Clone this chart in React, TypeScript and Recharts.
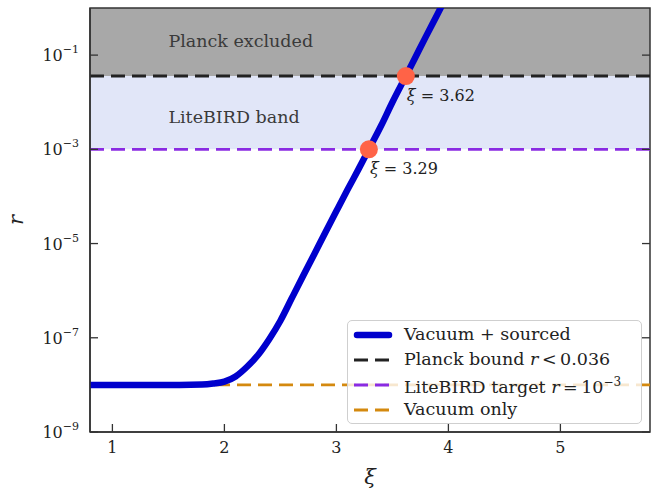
import {
  LineChart,
  Line,
  XAxis,
  YAxis,
  ReferenceArea,
  ReferenceLine,
  ReferenceDot,
} from 'recharts'

const FONT = '"DejaVu Serif", "Liberation Serif", serif'

// ── data ─────────────────────────────────────────────────────────────────
const xiValues = [
  0.8, 1.0, 1.2, 1.4, 1.6, 1.8, 1.9, 2.0, 2.1, 2.2, 2.3, 2.4, 2.5, 2.6, 2.7, 2.8,
  2.9, 3.0, 3.1, 3.2, 3.29, 3.4, 3.5, 3.62, 3.7, 3.8, 3.9, 3.95,
]
const rTotal = [
  1.0e-8, 1.0e-8, 1.0e-8, 1.0e-8, 1.0e-8, 1.02e-8, 1.07e-8, 1.17e-8, 1.51e-8, 2.4e-8,
  4.3e-8, 9.3e-8, 2.3e-7, 6.8e-7, 2.0e-6, 5.8e-6, 1.7e-5, 4.9e-5, 1.4e-4, 3.9e-4,
  1.0e-3, 3.2e-3, 1.0e-2, 3.6e-2, 8.5e-2, 0.25, 0.72, 1.23,
]
const vacuumXi = [0.8, 5.8]
const vacuumR = [1e-8, 1e-8]

const planckBound = 0.036
const litebirdTarget = 1e-3
const crossXi = [3.29, 3.62]
const crossR = [1e-3, 0.036]
const crossLabels = ['3.29', '3.62']

const xTicks = [1, 2, 3, 4, 5]
const yTicks = [1e-9, 1e-7, 1e-5, 1e-3, 1e-1]
const xDomain: [number, number] = [0.8, 5.8]
const yDomain: [number, number] = [1e-9, 1]

const BLUE = '#0000cd'
const BLACK = '#222222'
const PURPLE = '#8a2be2'
const ORANGE = '#d4890f'
const TOMATO = '#ff6347'
const DASH = '14 7'

const PLOT_W = 560

const curve = xiValues.map((xi, i) => ({ xi, r: rTotal[i] }))
const vacuum = vacuumXi.map((xi, i) => ({ xi, r: vacuumR[i] }))

// ── ticks (matplotlib-style, pointing inward, mirrored on the right) ─────
function LeftTick({ x, y, payload }: any) {
  const exp = Math.round(Math.log10(payload.value))
  return (
    <g>
      <line x1={x} x2={x + 8} y1={y} y2={y} stroke="#333" strokeWidth={1.3} />
      <line x1={x + PLOT_W - 8} x2={x + PLOT_W} y1={y} y2={y} stroke="#333" strokeWidth={1.3} />
      <text x={x - 11} y={y + 6} textAnchor="end" fontFamily={FONT} fontSize={16} fill="#222">
        10
        <tspan dy={-8} fontSize={11}>{`−${Math.abs(exp)}`}</tspan>
      </text>
    </g>
  )
}

function BottomTick({ x, y, payload }: any) {
  return (
    <g>
      <line x1={x} x2={x} y1={y} y2={y - 8} stroke="#333" strokeWidth={1.3} />
      <text x={x} y={y + 21} textAnchor="middle" fontFamily={FONT} fontSize={16} fill="#222">
        {payload.value}
      </text>
    </g>
  )
}

function CrossLabel({ viewBox, text }: any) {
  const cx = viewBox.x + viewBox.width / 2
  const cy = viewBox.y + viewBox.height / 2
  return (
    <text x={cx + 1} y={cy + 25} fontFamily={FONT} fontSize={16} fill="#222">
      <tspan fontStyle="italic">ξ</tspan>
      <tspan> = {text}</tspan>
    </text>
  )
}

// ── legend (semi-transparent box over the plot) ───────────────────────────
function Handle({ color, dashed, width }: { color: string; dashed: boolean; width: number }) {
  return (
    <svg width={40} height={10} style={{ display: 'block' }}>
      <line
        x1={dashed ? 1 : 4}
        x2={dashed ? 39 : 36}
        y1={5}
        y2={5}
        stroke={color}
        strokeWidth={width}
        strokeDasharray={dashed ? DASH : undefined}
        strokeLinecap={dashed ? 'butt' : 'round'}
      />
    </svg>
  )
}

function ChartLegend() {
  const rows = [
    { color: BLUE, dashed: false, width: 6.5, label: <>Vacuum + sourced</> },
    {
      color: BLACK,
      dashed: true,
      width: 2.8,
      label: (
        <>
          Planck bound <i>r</i>&thinsp;&lt;&thinsp;0.036
        </>
      ),
    },
    {
      color: PURPLE,
      dashed: true,
      width: 2.8,
      label: (
        <>
          LiteBIRD target <i>r</i>&thinsp;=&thinsp;10<sup style={{ fontSize: 12, verticalAlign: 7 }}>−3</sup>
        </>
      ),
    },
    { color: ORANGE, dashed: true, width: 2.8, label: <>Vacuum only</> },
  ]
  return (
    <div
      style={{
        position: 'absolute',
        left: 347,
        top: 320,
        width: 293,
        height: 101,
        background: 'rgba(255,255,255,0.8)',
        border: '1px solid #cfcfcf',
        borderRadius: 5,
        paddingTop: 1,
        boxSizing: 'content-box',
        fontFamily: FONT,
        fontSize: 17.5,
        color: '#222',
      }}
    >
      {rows.map((row, i) => (
        <div key={i} style={{ display: 'flex', alignItems: 'center', height: 25, lineHeight: '25px' }}>
          <div style={{ marginLeft: 5, width: 40 }}>
            <Handle color={row.color} dashed={row.dashed} width={row.width} />
          </div>
          <div style={{ marginLeft: 11, whiteSpace: 'nowrap' }}>{row.label}</div>
        </div>
      ))}
    </div>
  )
}

export default function App() {
  return (
    <div style={{ position: 'absolute', left: 0, top: 0, width: 660, height: 491, background: '#fff' }}>
      <LineChart width={660} height={491} margin={{ top: 8, right: 10, left: 0, bottom: 0 }}>
        <XAxis
          dataKey="xi"
          type="number"
          domain={xDomain}
          ticks={xTicks}
          allowDataOverflow
          height={59}
          tickSize={0}
          tickMargin={0}
          tickLine={false}
          tick={BottomTick}
          axisLine={{ stroke: '#333', strokeWidth: 1.5 }}
          label={(props: any) => {
            const vb = props.viewBox
            return (
              <text
                x={vb.x + vb.width / 2}
                y={vb.y + 52}
                textAnchor="middle"
                fontFamily={FONT}
                fontStyle="italic"
                fontSize={21}
                fill="#222"
              >
                ξ
              </text>
            )
          }}
        />
        <YAxis
          type="number"
          scale="log"
          domain={yDomain}
          ticks={yTicks}
          allowDataOverflow
          width={90}
          tickSize={0}
          tickMargin={0}
          tickLine={false}
          tick={LeftTick}
          axisLine={{ stroke: '#333', strokeWidth: 1.5 }}
          label={(props: any) => {
            const vb = props.viewBox
            const cx = 16
            const cy = vb.y + vb.height / 2
            return (
              <text
                x={cx}
                y={cy}
                transform={`rotate(-90 ${cx} ${cy})`}
                textAnchor="middle"
                dominantBaseline="central"
                fontFamily={FONT}
                fontStyle="italic"
                fontSize={21}
                fill="#222"
              >
                r
              </text>
            )
          }}
        />

        <ReferenceArea y1={planckBound} y2={yDomain[1]} fill="#a8a8a8" fillOpacity={1} stroke="none" />
        <ReferenceArea y1={litebirdTarget} y2={planckBound} fill="#e1e6f8" fillOpacity={1} stroke="none" />

        <ReferenceDot
          x={1.5}
          y={0.2}
          r={0}
          fill="none"
          stroke="none"
          label={{ value: 'Planck excluded', position: 'right', offset: 0, fill: '#3a3a3a', fontSize: 17.5, fontFamily: FONT }}
        />
        <ReferenceDot
          x={1.5}
          y={5e-3}
          r={0}
          fill="none"
          stroke="none"
          label={{ value: 'LiteBIRD band', position: 'right', offset: 0, fill: '#3a3a3a', fontSize: 17.5, fontFamily: FONT }}
        />

        <ReferenceLine y={planckBound} stroke={BLACK} strokeWidth={2.8} strokeDasharray={DASH} />
        <ReferenceLine y={litebirdTarget} stroke={PURPLE} strokeWidth={2.8} strokeDasharray={DASH} />

        <Line
          data={vacuum}
          dataKey="r"
          type="linear"
          stroke={ORANGE}
          strokeWidth={2.8}
          strokeDasharray={DASH}
          dot={false}
          activeDot={false}
          isAnimationActive={false}
        />
        <Line
          data={curve}
          dataKey="r"
          type="monotone"
          stroke={BLUE}
          strokeWidth={6.5}
          dot={false}
          activeDot={false}
          isAnimationActive={false}
        />

        {/* frame: top and right spines */}
        <ReferenceArea
          x1={xDomain[0]}
          x2={xDomain[1]}
          y1={yDomain[0]}
          y2={yDomain[1]}
          fill="none"
          fillOpacity={0}
          stroke="#333"
          strokeWidth={1.5}
        />

        {crossXi.map((xi, i) => (
          <ReferenceDot
            key={xi}
            x={xi}
            y={crossR[i]}
            r={9}
            fill={TOMATO}
            fillOpacity={1}
            stroke="none"
            label={<CrossLabel text={crossLabels[i]} />}
          />
        ))}
      </LineChart>
      <ChartLegend />
    </div>
  )
}
